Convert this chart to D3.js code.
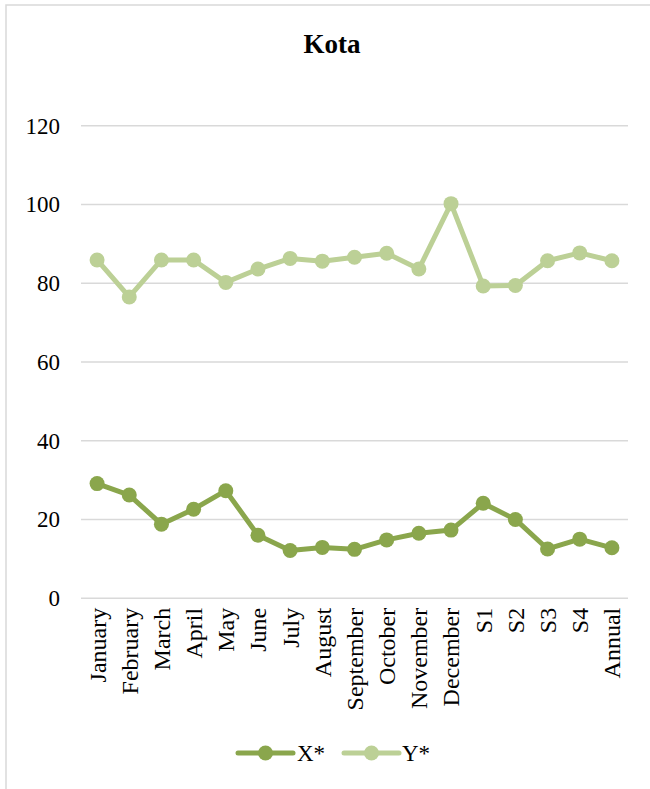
<!DOCTYPE html>
<html>
<head>
<meta charset="utf-8">
<script src="https://cdn.jsdelivr.net/npm/d3@7"></script>
<style>
  html, body { margin: 0; padding: 0; background: #fff; }
  svg { display: block; }
  svg text { font-family: "Liberation Serif", "Times New Roman", serif !important; }
</style>
</head>
<body>
<svg id="chart" width="650" height="789"></svg>
<script>
// Kota: monthly, seasonal and annual values for two series
const categories = ["January", "February", "March", "April", "May", "June", "July", "August",
  "September", "October", "November", "December", "S1", "S2", "S3", "S4", "Annual"];
const seriesX = [29.0, 26.1, 18.7, 22.5, 27.2, 15.9, 12.0, 12.8, 12.3, 14.7, 16.4, 17.2, 24.0, 19.9, 12.4, 14.9, 12.7];
const seriesY = [85.8, 76.4, 85.8, 85.8, 80.1, 83.5, 86.2, 85.5, 86.5, 87.5, 83.5, 100.1, 79.2, 79.3, 85.6, 87.6, 85.6];
const yTicks = [0, 20, 40, 60, 80, 100, 120];
const seriesNames = ["X*", "Y*"];
const seriesColors = ["#8aa64c", "#bcd096"];

const svg = d3.select("#chart");
const plotLeft = 81, plotRight = 628, plotTop = 125.3, plotBottom = 597.8;

// chart-area border
svg.append("rect")
  .attr("x", 6).attr("y", 5).attr("width", 700).attr("height", 900)
  .attr("fill", "none").attr("stroke", "#d9d9d9").attr("stroke-width", 1.5);

// title
svg.append("text")
  .attr("x", 332).attr("y", 53)
  .attr("text-anchor", "middle")
  .attr("font-size", 27).attr("font-weight", "bold")
  .text("Kota");

const x = d3.scalePoint().domain(categories).range([plotLeft, plotRight]).padding(0.5);
const y = d3.scaleLinear().domain([0, 120]).range([plotBottom, plotTop]);

// horizontal gridlines + value labels
const yAxis = d3.axisLeft(y).tickValues(yTicks).tickSize(-(plotRight - plotLeft)).tickPadding(21);
const gy = svg.append("g").attr("transform", `translate(${plotLeft},0)`).call(yAxis);
gy.select(".domain").remove();
gy.selectAll(".tick line").attr("stroke", "#d9d9d9").attr("stroke-width", 1.5);
gy.selectAll(".tick text")
  .attr("font-size", 23).attr("fill", "#000").attr("dy", "0.34em");

// category labels, rotated
const xAxis = d3.axisBottom(x).tickSize(0).tickPadding(0);
const gx = svg.append("g").attr("transform", `translate(0,${plotBottom})`).call(xAxis);
gx.select(".domain").remove();
gx.selectAll(".tick text")
  .attr("font-size", 24).attr("fill", "#000")
  .attr("text-anchor", "end")
  .attr("transform", "translate(0,10) rotate(-90)")
  .attr("x", 0).attr("y", 0).attr("dy", "0.33em");

// series lines with markers
const line = d3.line().x((d, i) => x(categories[i])).y(d => y(d));
[seriesX, seriesY].forEach((vals, k) => {
  const g = svg.append("g");
  g.append("path").datum(vals)
    .attr("d", line).attr("fill", "none")
    .attr("stroke", seriesColors[k]).attr("stroke-width", 5)
    .attr("stroke-linejoin", "round").attr("stroke-linecap", "round");
  g.selectAll("circle").data(vals).join("circle")
    .attr("cx", (d, i) => x(categories[i])).attr("cy", d => y(d))
    .attr("r", 7.5).attr("fill", seriesColors[k]);
});

// legend
const legendItems = [{ x0: 238, x1: 293, tx: 297 }, { x0: 344, x1: 399, tx: 402 }];
const ly = 753;
legendItems.forEach((it, k) => {
  const g = svg.append("g");
  g.append("line").attr("x1", it.x0).attr("x2", it.x1).attr("y1", ly).attr("y2", ly)
    .attr("stroke", seriesColors[k]).attr("stroke-width", 5).attr("stroke-linecap", "round");
  g.append("circle").attr("cx", (it.x0 + it.x1) / 2).attr("cy", ly).attr("r", 7.5).attr("fill", seriesColors[k]);
  g.append("text").attr("x", it.tx).attr("y", ly).attr("dy", "0.35em")
    .attr("font-size", 23).text(seriesNames[k]);
});
</script>
</body>
</html>
